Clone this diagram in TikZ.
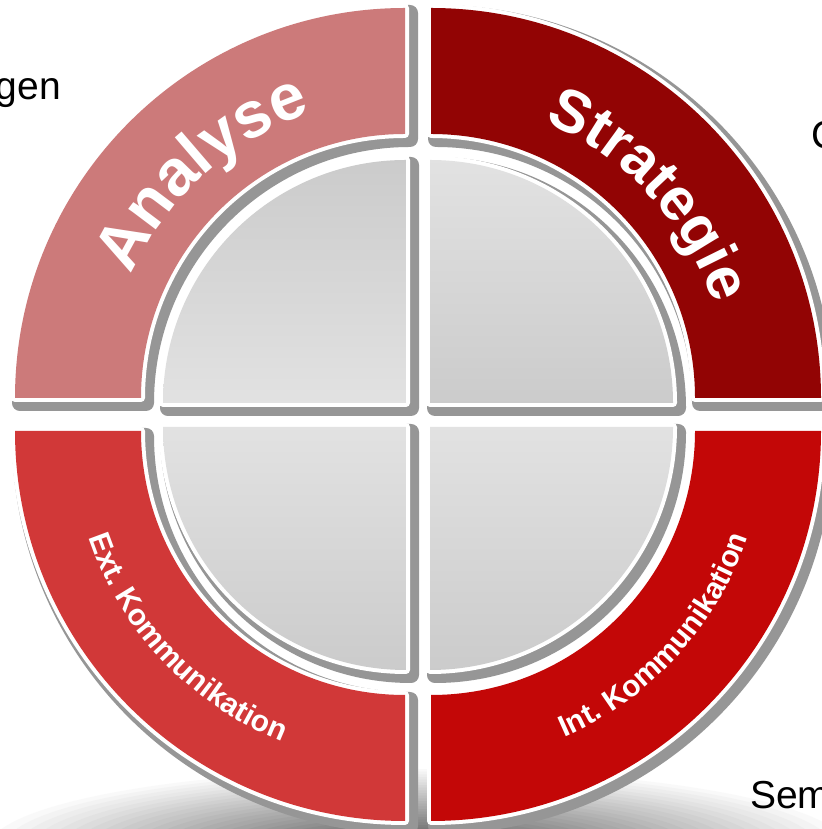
\documentclass[tikz,border=0pt]{standalone}
\usepackage{fontspec}
\setmainfont{Liberation Sans}
\usetikzlibrary{decorations.text}

\definecolor{anaCol}{RGB}{204,122,122}
\definecolor{strCol}{RGB}{146,4,4}
\definecolor{extCol}{RGB}{209,56,56}
\definecolor{intCol}{RGB}{195,7,7}
\definecolor{shadowGray}{RGB}{150,150,150}
\definecolor{discLight}{RGB}{237,237,237}
\definecolor{discDark}{RGB}{192,192,192}
\definecolor{floorDark}{RGB}{80,80,80}

\pgfdeclareverticalshading{discdown}{100bp}{color(0bp)=(discDark); color(100bp)=(discLight)}
\pgfdeclareverticalshading{discup}{100bp}{color(0bp)=(discLight); color(100bp)=(discDark)}

\newcommand{\ringpath}[1]{(#1:264) -- (#1:390) arc[start angle=#1, end angle=#1+90, radius=390] -- (#1+90:264) arc[start angle=#1+90, end angle=#1, radius=264] -- cycle}
\newcommand{\discpath}[1]{(0,0) -- (#1:243) arc[start angle=#1, end angle=#1+90, radius=243] -- cycle}

\tikzset{
  shadowshape/.style={fill=shadowGray, draw=shadowGray, line width=16pt, line join=round},
  whiteedge/.style={preaction={draw=white, line width=8pt, line join=round}},
  sidetext/.style={inner sep=0pt, font=\fontsize{39}{39}\selectfont},
  arctext/.style={decorate, decoration={text along path, text align=center, text color=white, text={#1}}}
}

\begin{document}
\begin{tikzpicture}[x=1pt, y=1pt]
\useasboundingbox (0,0) rectangle (821,829);
\fill[white] (0,0) rectangle (821,829);

% floor shadow (soft ellipse built from rings of colour)
\foreach \kk in {0,...,29} {
  \pgfmathsetmacro\fsc{1-\kk/30}
  \pgfmathsetmacro\fpc{100*(\kk+1)/30}
  \fill[floorDark!\fpc!white] (418,-20) ellipse [x radius=430*\fsc, y radius=80*\fsc];
}

% side texts
\node[sidetext, anchor=base east] (gen) at (61,729) {gen};
\node[sidetext, anchor=base west] (cc) at (811,680) {C};
\node[sidetext, anchor=base west] (sem) at (750,20) {Sem};

% shadows
\begin{scope}[shift={(410,426)}] \path[shadowshape] \ringpath{90}; \end{scope}
\begin{scope}[shift={(436,426)}] \path[shadowshape] \ringpath{0}; \end{scope}
\begin{scope}[shift={(410,393)}] \path[shadowshape] \ringpath{180}; \end{scope}
\begin{scope}[shift={(436,393)}] \path[shadowshape] \ringpath{270}; \end{scope}
\begin{scope}[shift={(411,421)}] \path[shadowshape] \discpath{90}; \end{scope}
\begin{scope}[shift={(435,421)}] \path[shadowshape] \discpath{0}; \end{scope}
\begin{scope}[shift={(411,397)}] \path[shadowshape] \discpath{180}; \end{scope}
\begin{scope}[shift={(435,397)}] \path[shadowshape] \discpath{270}; \end{scope}

% ring quadrants
\begin{scope}[shift={(405,431)}] \path[whiteedge, fill=anaCol] \ringpath{90}; \end{scope}
\begin{scope}[shift={(431,431)}] \path[whiteedge, fill=strCol] \ringpath{0}; \end{scope}
\begin{scope}[shift={(405,398)}] \path[whiteedge, fill=extCol] \ringpath{180}; \end{scope}
\begin{scope}[shift={(431,398)}] \path[whiteedge, fill=intCol] \ringpath{270}; \end{scope}

% disc quadrants
\begin{scope}[shift={(406,426)}] \shade[whiteedge, shading=discup] \discpath{90}; \end{scope}
\begin{scope}[shift={(430,426)}] \shade[whiteedge, shading=discdown] \discpath{0}; \end{scope}
\begin{scope}[shift={(406,402)}] \shade[whiteedge, shading=discdown] \discpath{180}; \end{scope}
\begin{scope}[shift={(430,402)}] \shade[whiteedge, shading=discdown] \discpath{270}; \end{scope}

% ring labels
\begin{scope}[shift={(405,431)}]
  \path[arctext={|\fontsize{65}{65}\selectfont\bfseries|Analyse}] (167:300) arc[start angle=167, end angle=97, radius=300];
\end{scope}
\begin{scope}[shift={(431,431)}]
  \path[arctext={|\fontsize{60}{60}\selectfont\bfseries|Strategie}] (78:298) arc[start angle=78, end angle=8, radius=298];
\end{scope}
\begin{scope}[shift={(405,398)}]
  \path[arctext={|\fontsize{30}{30}\selectfont\bfseries|Ext. Kommunikation}] (186:334) arc[start angle=186, end angle=261, radius=334];
\end{scope}
\begin{scope}[shift={(431,398)}]
  \path[arctext={|\fontsize{30}{30}\selectfont\bfseries|Int. Kommunikation}] (280:334) arc[start angle=280, end angle=355, radius=334];
\end{scope}
\end{tikzpicture}
\end{document}
